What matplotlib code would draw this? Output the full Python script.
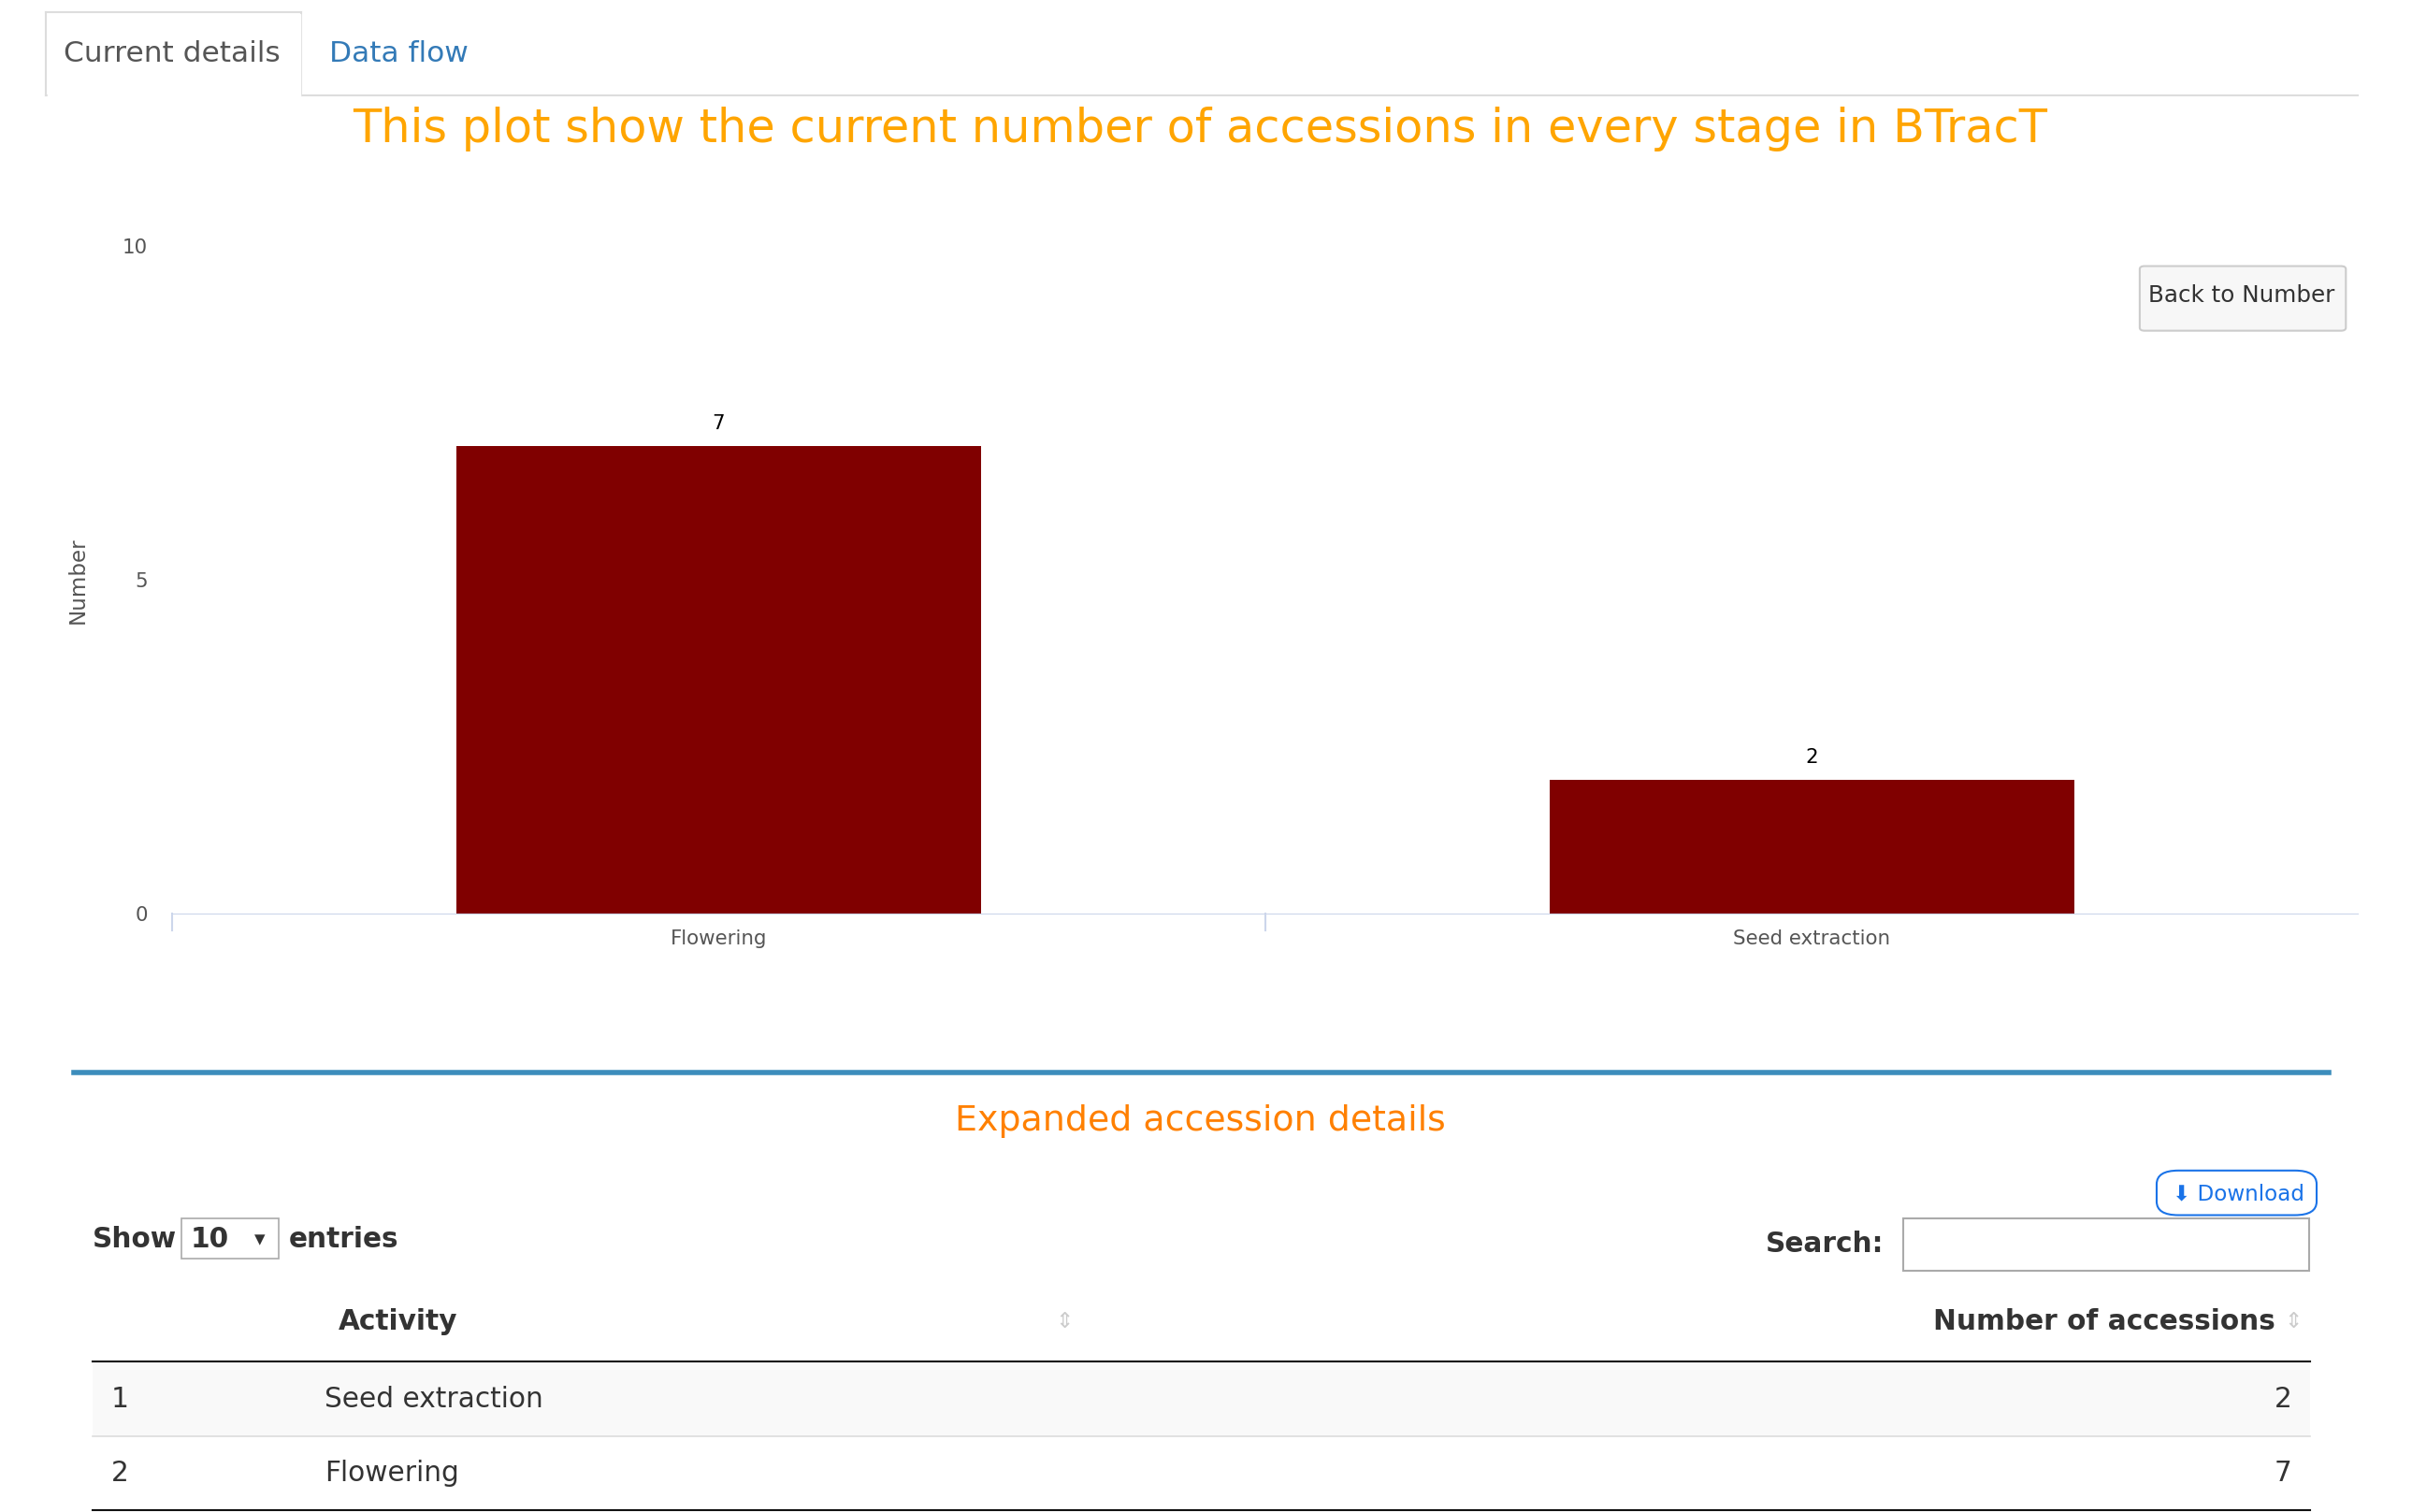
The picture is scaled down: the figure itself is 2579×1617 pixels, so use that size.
import matplotlib
matplotlib.use("Agg")
import matplotlib.pyplot as plt
from matplotlib.patches import Rectangle, FancyBboxPatch
from matplotlib.lines import Line2D

categories = ["Flowering", "Seed extraction"]
values = [7, 2]
yticks = [0, 5, 10]
table_rows = [("1", "Seed extraction", "2"), ("2", "Flowering", "7")]

W, H = 1568.0, 983.0
S = 2579 / W
def fx(x): return x / W
def fy(y): return 1 - y / H
def pt(px): return px * S * 72 / 100

fig = plt.figure(figsize=(25.79, 16.17), dpi=100)
fig.patch.set_facecolor("white")

def txt(x, y, s, size, color="#333333", ha="left", va="center", **kw):
    fig.text(fx(x), fy(y), s, fontsize=pt(size), color=color, ha=ha, va=va, **kw)

def line(x0, y0, x1, y1, color, lw):
    fig.add_artist(Line2D([fx(x0), fx(x1)], [fy(y0), fy(y1)], color=color, lw=lw, transform=fig.transFigure))

# tabs
line(30, 62, 1533, 62, "#dddddd", 1.5)
line(30, 8, 30, 62, "#dddddd", 1.5); line(196, 8, 196, 62, "#dddddd", 1.5); line(30, 8, 196, 8, "#dddddd", 1.5)
fig.add_artist(Rectangle((fx(31), fy(63)), fx(164), 54 / H, color="white", transform=fig.transFigure, zorder=3))
txt(112, 35, "Current details", 19, "#555555", ha="center", zorder=4)
txt(259, 35, "Data flow", 19, "#337ab7", ha="center")
txt(780, 84, "This plot show the current number of accessions in every stage in BTracT", 30, "#FFA500", ha="center")

ax = fig.add_axes([fx(112), fy(594), fx(1533) - fx(112), fy(160) - fy(594)])
x = range(len(categories))
bars = ax.bar(x, values, width=0.48, color="#800000")
for xi, v in zip(x, values):
    ax.text(xi, v + 0.2, str(v), ha="center", va="bottom", fontsize=pt(13))
ax.set_xlim(-0.5, 1.5); ax.set_ylim(0, 10)
ax.set_yticks(yticks); ax.set_xticks(list(x)); ax.set_xticklabels(categories)
ax.tick_params(axis="y", length=0, labelsize=pt(13), colors="#555555", pad=pt(16))
ax.tick_params(axis="x", length=0, labelsize=pt(13), colors="#555555", pad=pt(10))
for s in ["top", "right", "left"]:
    ax.spines[s].set_visible(False)
ax.spines["bottom"].set_color("#ccd6eb")
ax.set_ylabel("Number", fontsize=pt(14), color="#555555", labelpad=pt(22))
for xv in [-0.5, 0.5]:
    ax.plot([xv, xv], [0, -0.25], color="#ccd6eb", lw=1.5, clip_on=False)

fig.add_artist(FancyBboxPatch((fx(1391), fy(215)), fx(134), 42 / H, boxstyle="round,pad=0,rounding_size=0.002",
               fc="#f7f7f7", ec="#cccccc", lw=1.5, transform=fig.transFigure))
txt(1457, 192, "Back to Number", 15, "#333333", ha="center")

# box
line(48, 697, 1514, 697, "#3c8dbc", 4)
txt(780, 729, "Expanded accession details", 23, "#FF8000", ha="center")
fig.add_artist(FancyBboxPatch((fx(1402), fy(790)), fx(104), 29 / H, boxstyle="round,pad=0,rounding_size=0.009",
               fc="white", ec="#1a73e8", lw=1.5, transform=fig.transFigure))
txt(1455, 776, "⬇ Download", 14, "#1a73e8", ha="center")
txt(60, 806, "Show", 18, "#333333", weight="bold")
fig.add_artist(Rectangle((fx(118), fy(818)), fx(63), 26 / H, fc="white", ec="#aaaaaa", lw=1.2, transform=fig.transFigure))
txt(124, 806, "10", 18, "#333333", weight="bold")
txt(169, 806, "▾", 14, "#333333", ha="center")
txt(188, 806, "entries", 18, "#333333", weight="bold")
txt(1225, 809, "Search:", 18, "#333333", ha="right", weight="bold")
fig.add_artist(Rectangle((fx(1237), fy(826)), fx(264), 34 / H, fc="white", ec="#aaaaaa", lw=1.5, transform=fig.transFigure))
txt(220, 859, "Activity", 18, "#333333", weight="bold")
txt(1479, 859, "Number of accessions", 18, "#333333", ha="right", weight="bold")
txt(692, 859, "⇕", 14, "#cccccc", ha="center")
txt(1491, 859, "⇕", 14, "#cccccc", ha="center")
line(60, 885, 1502, 885, "#111111", 1.5)
fig.add_artist(Rectangle((fx(60), fy(934)), fx(1442), 48 / H, fc="#f9f9f9", ec="none", transform=fig.transFigure))
ys = [910, 958]
for (i, a, n), yy in zip(table_rows, ys):
    txt(72, yy, i, 18); txt(211, yy, a, 18); txt(1490, yy, n, 18, ha="right")
line(60, 934, 1502, 934, "#dddddd", 1.2)
line(60, 982, 1502, 982, "#111111", 1.5)

fig.savefig("out.png", dpi=100)
